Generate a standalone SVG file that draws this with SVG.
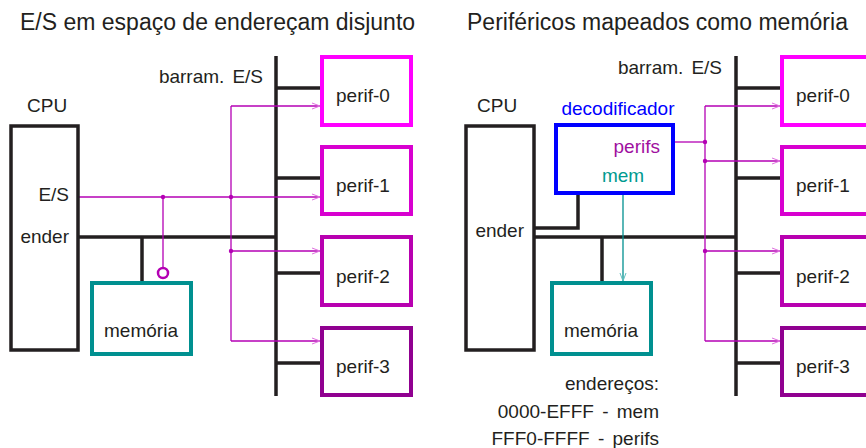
<svg xmlns="http://www.w3.org/2000/svg" width="866" height="448" viewBox="0 0 866 448">
<style>
text{font-family:"Liberation Sans","DejaVu Sans",sans-serif;fill:#231f20}
.t{font-size:23px}
.l{font-size:19px}
.k{fill:none;stroke:#231f20;stroke-width:3.5}
.bus{fill:none;stroke:#231f20;stroke-width:3.5}
.m{fill:none;stroke:#b400b4;stroke-width:1.3}
.dot{fill:#b400b4}
.p0{fill:#fff;stroke:#ff00ff;stroke-width:4}
.p1{fill:#fff;stroke:#d800d0;stroke-width:4}
.p2{fill:#fff;stroke:#b800b0;stroke-width:4}
.p3{fill:#fff;stroke:#900090;stroke-width:4}
.mem{fill:#fff;stroke:#009090;stroke-width:4}
.r{text-anchor:end}
.c{text-anchor:middle}
</style>
<defs>
<marker id="am" markerWidth="10" markerHeight="8" refX="9" refY="4" orient="auto" markerUnits="userSpaceOnUse">
<path d="M1,1 L9,4 L1,7" fill="none" stroke="#e070e0" stroke-width="1"/>
</marker>
<marker id="at" markerWidth="8" markerHeight="10" refX="4" refY="9" orient="0" markerUnits="userSpaceOnUse">
<path d="M1,1 L4,9 L7,1" fill="none" stroke="#60c0c0" stroke-width="1"/>
</marker>
</defs>

<text class="t" x="20" y="30">E/S em espaço de endereçam disjunto</text>
<text class="t" x="467" y="30">Periféricos mapeados como memória</text>

<!-- LEFT PANEL -->
<g id="connectors-left">
<path class="bus" d="M276,56 V396"/>
<path class="k" d="M276,88 H322 M276,178 H322 M276,273 H322 M276,363 H322"/>
<path class="k" d="M78,237 H276 M142,237 V283"/>
<path class="m" d="M78,197 H320" marker-end="url(#am)"/>
<path class="m" d="M231,106 H320" marker-end="url(#am)"/>
<path class="m" d="M231,251 H320" marker-end="url(#am)"/>
<path class="m" d="M231,341 H320" marker-end="url(#am)"/>
<path class="m" d="M231,106 V341 M163,197 V268"/>
<circle class="dot" cx="163" cy="197" r="2.2"/>
<circle class="dot" cx="231" cy="197" r="2.2"/>
<circle class="dot" cx="231" cy="251" r="2.2"/>
<circle cx="163" cy="273" r="5" fill="#fff" stroke="#b400b4" stroke-width="2.5"/>
</g>
<text class="l r" x="263" y="83">barram.<tspan dx="8">E/S</tspan></text>
<g id="cpu-left">
<text class="l" x="27" y="112">CPU</text>
<rect x="11" y="126" width="67" height="224" fill="none" stroke="#231f20" stroke-width="3.5"/>
<text class="l r" x="69" y="201">E/S</text>
<text class="l r" x="69" y="243">ender</text>
</g>
<g id="mem-left">
<rect class="mem" x="92" y="283" width="99" height="71"/>
<text class="l c" x="141" y="337">memória</text>
</g>
<g id="perif0-left"><rect class="p0" x="322" y="57" width="89" height="68"/><text class="l" x="336" y="102">perif-0</text></g>
<g id="perif1-left"><rect class="p1" x="322" y="147" width="89" height="67"/><text class="l" x="336" y="192">perif-1</text></g>
<g id="perif2-left"><rect class="p2" x="322" y="237" width="89" height="68"/><text class="l" x="336" y="283">perif-2</text></g>
<g id="perif3-left"><rect class="p3" x="322" y="328" width="89" height="67"/><text class="l" x="336" y="373">perif-3</text></g>

<!-- RIGHT PANEL -->
<g id="connectors-right">
<path class="bus" d="M736,56 V396"/>
<path class="k" d="M736,88 H782 M736,178 H782 M736,273 H782 M736,363 H782"/>
<path class="k" d="M534,237 H736 M602,237 V283 M534,228 H578 V193"/>
<path class="m" d="M673,142 H705"/>
<path class="m" d="M705,106 H780" marker-end="url(#am)"/>
<path class="m" d="M705,161 H780" marker-end="url(#am)"/>
<path class="m" d="M705,251 H780" marker-end="url(#am)"/>
<path class="m" d="M705,341 H780" marker-end="url(#am)"/>
<path class="m" d="M705,106 V341"/>
<circle class="dot" cx="705" cy="142" r="2.2"/>
<circle class="dot" cx="705" cy="161" r="2.2"/>
<circle class="dot" cx="705" cy="251" r="2.2"/>
<path d="M623,193 V281" fill="none" stroke="#009090" stroke-width="1.3" marker-end="url(#at)"/>
</g>
<text class="l r" x="722" y="74">barram.<tspan dx="8">E/S</tspan></text>
<g id="cpu-right">
<text class="l" x="477" y="112">CPU</text>
<rect x="466" y="126" width="68" height="224" fill="none" stroke="#231f20" stroke-width="3.5"/>
<text class="l r" x="524" y="237">ender</text>
</g>
<g id="decoder">
<text class="l c" x="618" y="115" style="fill:#0000ff">decodificador</text>
<rect x="556" y="125" width="117" height="68" fill="#fff" stroke="#0000ff" stroke-width="4"/>
<text class="l r" x="660" y="153" style="fill:#a010a0">perifs</text>
<text class="l c" x="623" y="182" style="fill:#009a90">mem</text>
</g>
<g id="mem-right">
<rect class="mem" x="552" y="283" width="99" height="71"/>
<text class="l c" x="601" y="337">memória</text>
</g>
<g id="perif0-right"><rect class="p0" x="782" y="57" width="89" height="68"/><text class="l" x="796" y="102">perif-0</text></g>
<g id="perif1-right"><rect class="p1" x="782" y="147" width="89" height="67"/><text class="l" x="796" y="192">perif-1</text></g>
<g id="perif2-right"><rect class="p2" x="782" y="237" width="89" height="68"/><text class="l" x="796" y="283">perif-2</text></g>
<g id="perif3-right"><rect class="p3" x="782" y="328" width="89" height="67"/><text class="l" x="796" y="373">perif-3</text></g>

<g id="addresses">
<text class="l r" x="659" y="390">endereços:</text>
<text class="l r" x="659" y="418" word-spacing="3">0000-EFFF - mem</text>
<text class="l r" x="659" y="445" word-spacing="3">FFF0-FFFF - perifs</text>
</g>
</svg>
